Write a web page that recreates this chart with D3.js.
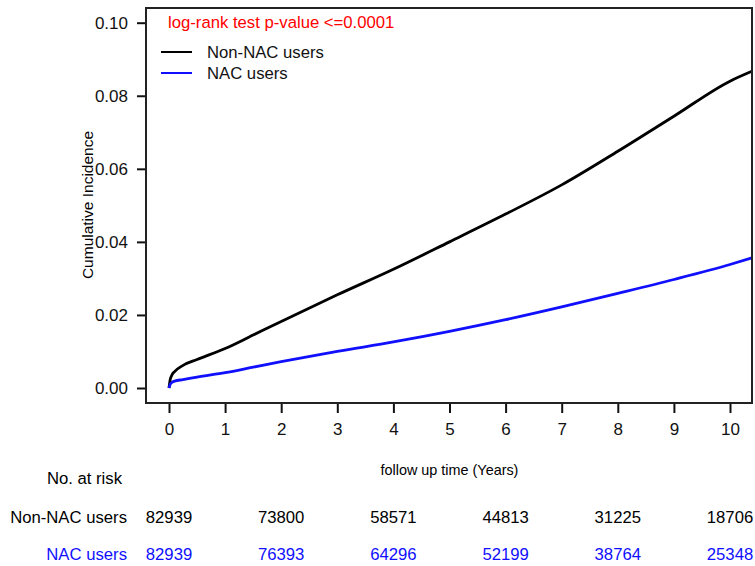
<!DOCTYPE html>
<html>
<head>
<meta charset="utf-8">
<script src="https://cdn.jsdelivr.net/npm/d3@7"></script>
<style>
  body { margin: 0; background: #fff; }
  svg { font-family: "Liberation Sans", Arial, sans-serif; }
</style>
</head>
<body>
<div id="chart"></div>
<script>
// follow-up time (years) and cumulative incidence
const times     = [0, 0.02, 0.05, 0.1, 0.25, 0.5, 1, 1.5, 2, 3, 4, 5, 6, 7, 8, 9, 10, 10.39];
const nonNac    = [0, 0.0022, 0.0035, 0.0045, 0.0062, 0.0078, 0.0108, 0.0145, 0.0182, 0.0255, 0.0325, 0.0400, 0.0476, 0.0556, 0.0648, 0.0744, 0.0840, 0.0867];
const nac       = [0, 0.0010, 0.0015, 0.0019, 0.0023, 0.0030, 0.0042, 0.0057, 0.0072, 0.0100, 0.0126, 0.0155, 0.0187, 0.0222, 0.0259, 0.0297, 0.0338, 0.0356];

const xTicks = [0, 1, 2, 3, 4, 5, 6, 7, 8, 9, 10];
const yTicks = [0, 0.02, 0.04, 0.06, 0.08, 0.10];

const riskTimes  = [0, 2, 4, 6, 8, 10];
const riskNonNac = [82939, 73800, 58571, 44813, 31225, 18706];
const riskNac    = [82939, 76393, 64296, 52199, 38764, 25348];

const groups = ["Non-NAC users", "NAC users"];
const colors = ["#000000", "#1010ff"];

const width = 755, height = 566;
const box = { left: 146, right: 752, top: 8, bottom: 403 };

const svg = d3.select("#chart").append("svg")
    .attr("width", width)
    .attr("height", height);

const x = d3.scaleLinear().domain([0, 10]).range([169, 730]);
const y = d3.scaleLinear().domain([0, 0.10]).range([388, 22.7]);

// y axis
const yAxis = svg.append("g")
    .attr("transform", `translate(${box.left},0)`)
    .call(d3.axisLeft(y).tickValues(yTicks).tickFormat(d3.format(".2f")).tickSize(9).tickPadding(9).tickSizeOuter(0));
yAxis.select(".domain").remove();
yAxis.selectAll("line").attr("stroke", "#111").attr("stroke-width", 2);
yAxis.selectAll("text").attr("font-size", 17).attr("fill", "#111").attr("font-family", null);

// x axis
const xAxis = svg.append("g")
    .attr("transform", `translate(0,${box.bottom})`)
    .call(d3.axisBottom(x).tickValues(xTicks).tickFormat(d3.format("d")).tickSize(10).tickPadding(10).tickSizeOuter(0));
xAxis.select(".domain").remove();
xAxis.selectAll("line").attr("stroke", "#111").attr("stroke-width", 2);
xAxis.selectAll("text").attr("font-size", 17).attr("fill", "#111").attr("font-family", null);

// curves
const line = d3.line()
    .x(d => x(d[0]))
    .y(d => y(d[1]))
    .curve(d3.curveMonotoneX);

[nonNac, nac].forEach((vals, i) => {
    svg.append("path")
        .datum(times.map((t, j) => [t, vals[j]]))
        .attr("fill", "none")
        .attr("stroke", colors[i])
        .attr("stroke-width", 2.8)
        .attr("stroke-linejoin", "round")
        .attr("d", line);
});

// plot box
svg.append("rect")
    .attr("x", box.left)
    .attr("y", box.top)
    .attr("width", box.right - box.left)
    .attr("height", box.bottom - box.top)
    .attr("fill", "none")
    .attr("stroke", "#222")
    .attr("stroke-width", 2);

// axis titles
svg.append("text")
    .attr("transform", "translate(93,205) rotate(-90)")
    .attr("text-anchor", "middle")
    .attr("font-size", 15.5)
    .text("Cumulative Incidence");

svg.append("text")
    .attr("x", x(5))
    .attr("y", 475)
    .attr("text-anchor", "middle")
    .attr("font-size", 14.4)
    .text("follow up time (Years)");

// p-value + legend
svg.append("text")
    .attr("x", 168)
    .attr("y", 28)
    .attr("font-size", 16.7)
    .attr("fill", "#ff0000")
    .text("log-rank test p-value <=0.0001");

const legend = svg.append("g");
groups.forEach((g, i) => {
    const ly = 52 + i * 21;
    legend.append("line")
        .attr("x1", 161).attr("x2", 192)
        .attr("y1", ly).attr("y2", ly)
        .attr("stroke", colors[i])
        .attr("stroke-width", 2);
    legend.append("text")
        .attr("x", 207).attr("y", ly)
        .attr("dy", "0.35em")
        .attr("font-size", 16.7)
        .attr("fill", "#111")
        .text(g);
});

// number at risk table
svg.append("text")
    .attr("x", 122).attr("y", 478)
    .attr("dy", "0.35em")
    .attr("text-anchor", "end")
    .attr("font-size", 16.7)
    .text("No. at risk");

[riskNonNac, riskNac].forEach((vals, i) => {
    const ry = 517 + i * 37;
    svg.append("text")
        .attr("x", 127).attr("y", ry)
        .attr("dy", "0.35em")
        .attr("text-anchor", "end")
        .attr("font-size", 16.7)
        .attr("fill", colors[i])
        .text(groups[i]);
    svg.append("g").selectAll("text")
        .data(vals)
        .join("text")
        .attr("x", (d, j) => x(riskTimes[j]))
        .attr("y", ry)
        .attr("dy", "0.35em")
        .attr("text-anchor", "middle")
        .attr("font-size", 16.7)
        .attr("fill", colors[i])
        .text(d => d);
});
</script>
</body>
</html>
